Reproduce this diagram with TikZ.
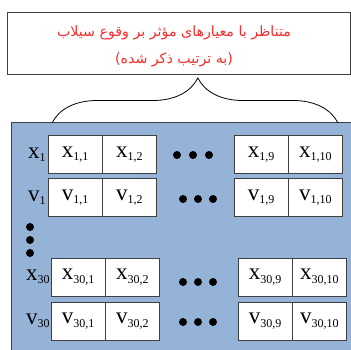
\documentclass[tikz,border=0pt]{standalone}
\usepackage{fontspec}
\setmainfont{Liberation Serif}
\newfontfamily\persianfont[Script=Arabic]{DejaVu Sans}
\TeXXeTstate=1
\usetikzlibrary{positioning,decorations.pathreplacing}
\definecolor{panelblue}{RGB}{149,179,215}
\definecolor{titlered}{RGB}{245,45,45}
\definecolor{linegray}{RGB}{64,64,64}
\newcommand{\idx}[1]{\raisebox{-3.5pt}{\fontsize{12}{12}\selectfont #1}}
\tikzset{
  cell/.style={draw=linegray, fill=white, minimum width=54pt, minimum height=38pt, inner sep=0pt, font=\fontsize{23}{23}\selectfont},
  rowlabel/.style={inner sep=0pt, font=\fontsize{23}{23}\selectfont}
}
\begin{document}
\begin{tikzpicture}[x=1pt,y=-1pt]
\useasboundingbox (0,0) rectangle (351,349);
% title box
\node [draw=linegray, minimum width=343pt, minimum height=62pt, inner sep=0pt] (titlebox) at (178.5,43) {};
\node [text=titlered, align=center, font=\persianfont\fontsize{14.2}{27}\selectfont] (title) at (174,46)
  {\beginR متناظر با معیارهای مؤثر بر وقوع سیلاب\endR\\ \beginR(به ترتیب ذکر شده)\endR};
% panel
\draw [linegray, fill=panelblue] (11,122) rectangle (360,360);
% brace
\coordinate (braceL) at (52,123);
\coordinate (braceR) at (338,123);
\draw [thick, decorate, decoration={brace, amplitude=45pt, aspect=0.51}] (braceL) -- (braceR);
% row x1
\node [cell] (x1a) at (75,154.5) {x\idx{1,1}};
\node [cell, right=0pt of x1a] (x1b) {x\idx{1,2}};
\node [cell] (x1c) at (261,154.5) {x\idx{1,9}};
\node [cell, right=0pt of x1c] (x1d) {x\idx{1,10}};
\node [rowlabel, left=2pt of x1a] (x1) {x\idx{1}};
% row v1
\node [cell] (v1a) at (75,197.5) {v\idx{1,1}};
\node [cell, right=0pt of v1a] (v1b) {v\idx{1,2}};
\node [cell] (v1c) at (261,197.5) {v\idx{1,9}};
\node [cell, right=0pt of v1c] (v1d) {v\idx{1,10}};
\node [rowlabel, left=2pt of v1a] (v1) {v\idx{1}};
% row x30
\node [cell] (x30a) at (78,277) {x\idx{30,1}};
\node [cell, right=0pt of x30a] (x30b) {x\idx{30,2}};
\node [cell] (x30c) at (265,277) {x\idx{30,9}};
\node [cell, right=0pt of x30c] (x30d) {x\idx{30,10}};
\node [rowlabel, left=1pt of x30a] (x30) {x\idx{30}};
% row v30
\node [cell] (v30a) at (78,321) {v\idx{30,1}};
\node [cell, right=0pt of v30a] (v30b) {v\idx{30,2}};
\node [cell] (v30c) at (265,321) {v\idx{30,9}};
\node [cell, right=0pt of v30c] (v30d) {v\idx{30,10}};
\node [rowlabel, left=1pt of v30a] (v30) {v\idx{30}};
% dots
\foreach \x in {177,193,209} \fill (\x,155) circle (4);
\foreach \x in {183,198,213} {
  \fill (\x,199) circle (4);
  \fill (\x,282) circle (4);
  \fill (\x,322) circle (4);
}
\foreach \y in {227,240,253} \fill (30,\y) circle (4);
\end{tikzpicture}
\end{document}
